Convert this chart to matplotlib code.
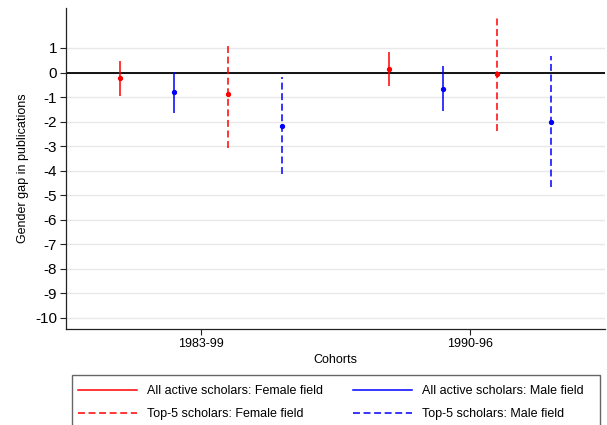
import matplotlib
matplotlib.use("Agg")
import matplotlib.pyplot as plt
from matplotlib.lines import Line2D
from matplotlib.patches import Rectangle
import numpy as np

plt.rcParams['font.family'] = ['Liberation Sans', 'DejaVu Sans']
plt.rcParams['lines.scale_dashes'] = False

# data: point estimate and 95% CI, per cohort
cohorts = ['1983-99', '1990-96']
series = ['All active scholars: Female field', 'All active scholars: Male field',
          'Top-5 scholars: Female field', 'Top-5 scholars: Male field']
est = [[-0.22, 0.14],
       [-0.80, -0.67],
       [-0.87, -0.07],
       [-2.16, -2.01]]
ci_lo = [[-0.94, -0.56],
         [-1.63, -1.58],
         [-3.09, -2.40],
         [-4.13, -4.68]]
ci_hi = [[0.49, 0.82],
         [0.03, 0.26],
         [1.20, 2.29],
         [-0.19, 0.68]]

colors = ['#ff0000', '#0000ff', '#ff0000', '#0000ff']
styles = ['-', '-', (0, (5, 2.6)), (0, (5, 2.6))]

W, H = 607, 425
fig = plt.figure(figsize=(W / 100, H / 100), dpi=100)
ax = fig.add_axes([66 / W, 1 - 329 / H, (605 - 66) / W, (329 - 7.5) / H])

centers = np.array([2.5, 7.5])
offsets = [-1.5, -0.5, 0.5, 1.5]

ax.axhline(0, color='black', lw=1.3, zorder=2)
for i in range(4):
    xs = centers + offsets[i]
    ax.vlines(xs, ci_lo[i], ci_hi[i], colors=colors[i], linestyles=[styles[i]],
              lw=1.1, zorder=3)
    ax.plot(xs, est[i], 'o', color=colors[i], ms=2.8, zorder=4)

ax.set_xlim(0, 10)
ax.set_ylim(-10.45, 2.65)
ax.set_yticks(range(-10, 2))
ax.set_yticklabels([str(v) for v in range(-10, 2)], fontsize=11)
ax.set_xticks(centers)
ax.set_xticklabels(cohorts, fontsize=9)
ax.yaxis.grid(True, color='#e8e8e8', lw=1)
ax.set_axisbelow(True)
for s in ['top', 'right']:
    ax.spines[s].set_visible(False)
for s in ['left', 'bottom']:
    ax.spines[s].set_color('#222222')
    ax.spines[s].set_linewidth(0.9)
ax.tick_params(length=4.5, width=0.8, color='#222222', pad=2)
ax.set_ylabel('Gender gap in publications', fontsize=9, labelpad=4)
ax.set_xlabel('Cohorts', fontsize=9, labelpad=3)

# legend (column-major: red entries first, then blue)
order = [0, 2, 1, 3]
handles = [Line2D([], [], color=colors[i], ls=styles[i], lw=1.1) for i in order]
labels = [series[i] for i in order]
fig.legend(handles, labels, loc='upper left', bbox_to_anchor=(69 / W, 1 - 376 / H),
           ncol=2, frameon=False, fontsize=9, handlelength=4.7, handletextpad=0.8,
           columnspacing=2.4, labelspacing=0.88, borderpad=0.75, borderaxespad=0)
fig.patches.append(Rectangle((72 / W, -0.05), (600 - 72) / W, (H - 375) / H + 0.05,
                             transform=fig.transFigure, fill=False,
                             edgecolor='#666666', lw=1))

fig.savefig('out.png', dpi=100)
